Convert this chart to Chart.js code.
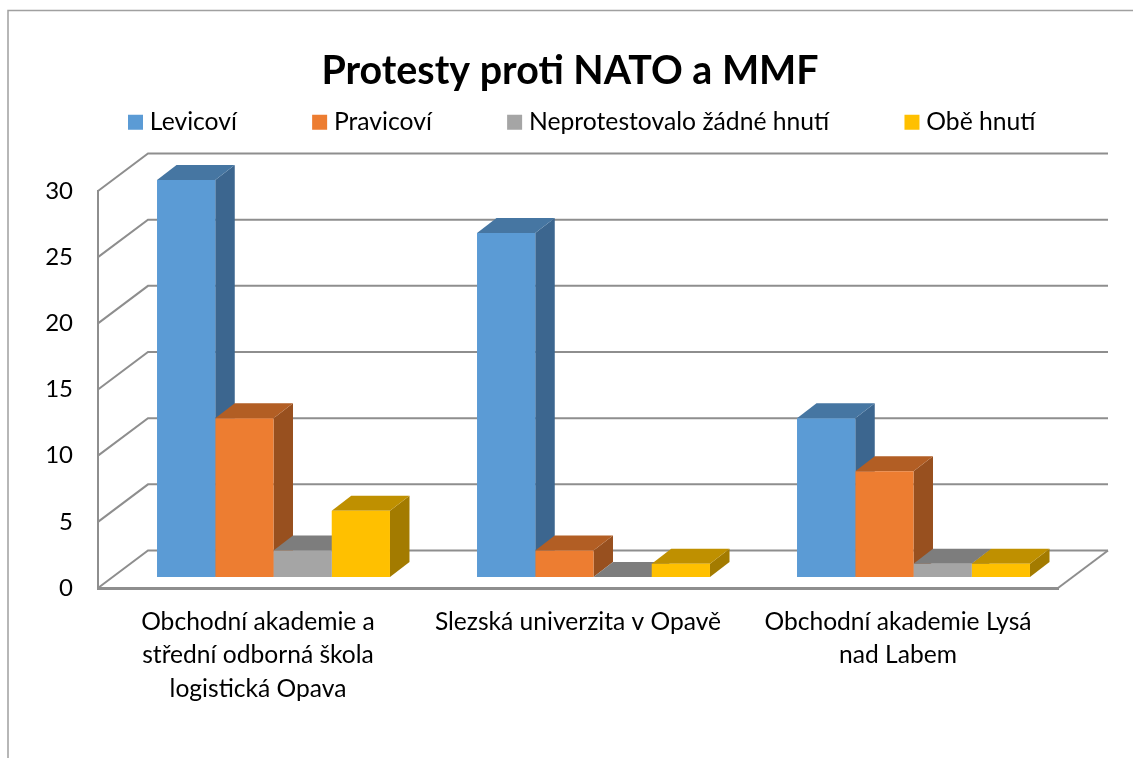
<!DOCTYPE html>
<html>
<head>
<meta charset="utf-8">
<style>
  body { margin: 0; background: #fff; }
  canvas { display: block; }
</style>
</head>
<body>
<canvas id="protestChart" width="1133" height="758"></canvas>
<script src="https://cdn.jsdelivr.net/npm/chart.js@4/dist/chart.umd.min.js"></script>
<script>
const categories = [
  ['Obchodní akademie a', 'střední odborná škola', 'logistická Opava'],
  'Slezská univerzita v Opavě',
  ['Obchodní akademie Lysá', 'nad Labem'],
];
const seriesNames = ['Levicoví', 'Pravicoví', 'Neprotestovalo žádné hnutí', 'Obě hnutí'];
const levicovi = [30, 26, 12];
const pravicovi = [12, 2, 8];
const zadne = [2, 0, 1];
const obe = [5, 1, 1];
const yTicks = [0, 5, 10, 15, 20, 25, 30];

const frontColors = ['#5B9BD5', '#ED7D31', '#A5A5A5', '#FFC000'];
const topColors = ['#4676A2', '#B25E24', '#7D7D7D', '#BF9000'];
const sideColors = ['#3C668F', '#98501F', '#6C6C6C', '#A37B00'];

const FONT = 'Lato, Carlito, sans-serif';
const GRID = '#8E8E8E';
// 3D depth of the walls and of the bars, in pixels
const WALL_DX = 50;
const WALL_DY = -37.5;
const BAR_DX = 15.5;
const BAR_DY = -11;
const DEPTH_DX = 19.5;
const DEPTH_DY = -15;

function poly(ctx, color, pts) {
  ctx.fillStyle = color;
  ctx.beginPath();
  pts.forEach(([x, y], i) => (i ? ctx.lineTo(x, y) : ctx.moveTo(x, y)));
  ctx.closePath();
  ctx.fill();
}

const depthPlugin = {
  id: 'depth',
  beforeLayout(chart) {
    // the legend row is wider than the plot, keep it on one line
    const legend = chart.legend;
    if (legend.patched) return;
    const fit = legend.fit;
    legend.fit = function () {
      this.maxWidth = 2000;
      fit.call(this);
      this.height = 100;
    };
    legend.patched = true;
  },
  afterLayout(chart) {
    chart.legend.top = 29.3;
    chart.legend.left = 52.8;
    chart.legend.right = 1500;
    chart.titleBlock.left += 41;
    chart.titleBlock.right += 41;
  },
  beforeDraw(chart) {
    const { ctx } = chart;
    ctx.save();
    ctx.strokeStyle = '#A0A0A0';
    ctx.lineWidth = 1.5;
    ctx.beginPath();
    ctx.moveTo(8, 758);
    ctx.lineTo(8, 10.5);
    ctx.lineTo(1133, 10.5);
    ctx.stroke();
    ctx.restore();
  },
  beforeDatasetsDraw(chart) {
    const { ctx, chartArea, scales } = chart;
    const { left, right, bottom } = chartArea;

    // back wall and side wall lines
    ctx.save();
    ctx.strokeStyle = GRID;
    ctx.lineWidth = 2;
    yTicks.forEach((value) => {
      const y = scales.y.getPixelForValue(value);
      ctx.beginPath();
      ctx.moveTo(left, y);
      ctx.lineTo(left + WALL_DX, y + WALL_DY);
      ctx.lineTo(right + WALL_DX, y + WALL_DY);
      ctx.stroke();
    });
    ctx.beginPath();
    ctx.moveTo(right, bottom);
    ctx.lineTo(right + WALL_DX, bottom + WALL_DY);
    ctx.stroke();
    ctx.restore();

    // side and top faces, left to right: a bar's top sits over its left neighbour's side
    chart.data.datasets.forEach((dataset, d) => {
      chart.getDatasetMeta(d).data.forEach((bar) => {
        const x0 = bar.x - bar.width / 2 + BAR_DX;
        const x1 = bar.x + bar.width / 2 + BAR_DX;
        const yt = bar.y + BAR_DY;
        const yb = bar.base + BAR_DY;
        poly(ctx, sideColors[d], [[x1, yt], [x1 + DEPTH_DX, yt + DEPTH_DY], [x1 + DEPTH_DX, yb + DEPTH_DY], [x1, yb]]);
        poly(ctx, topColors[d], [[x0, yt], [x0 + DEPTH_DX, yt + DEPTH_DY], [x1 + DEPTH_DX, yt + DEPTH_DY], [x1, yt]]);
      });
    });

    // the front faces come from the library, moved back into the floor
    ctx.save();
    ctx.translate(BAR_DX, BAR_DY);
  },
  afterDatasetsDraw(chart) {
    chart.ctx.restore();
  },
};

const seriesValues = [levicovi, pravicovi, zadne, obe];

new Chart(document.getElementById('protestChart'), {
  type: 'bar',
  data: {
    labels: categories,
    datasets: seriesNames.map((name, i) => ({
      label: name,
      data: seriesValues[i],
      backgroundColor: frontColors[i],
      borderWidth: 0,
      categoryPercentage: 0.728,
      barPercentage: 1,
      clip: false,
    })),
  },
  options: {
    responsive: false,
    animation: false,
    layout: { padding: { right: 75 } },
    plugins: {
      title: {
        display: true,
        text: 'Protesty proti NATO a MMF',
        color: '#000',
        font: { family: FONT, size: 39.4, weight: 'bold', lineHeight: 1 },
        padding: { top: 51.5, bottom: 0.1 },
      },
      legend: {
        align: 'start',
        labels: {
          color: '#000',
          font: { family: FONT, size: 24.7 },
          padding: 80.7,
          boxWidth: 4,
          boxHeight: 15,
          usePointStyle: true,
          pointStyle: 'rect',
        },
      },
      tooltip: { enabled: false },
    },
    scales: {
      x: {
        grid: { display: false, drawTicks: false },
        border: { color: GRID, width: 3 },
        ticks: {
          color: '#000',
          font: { family: FONT, size: 24.6, lineHeight: 1.36 },
          padding: 17,
          autoSkip: false,
          maxRotation: 0,
        },
        afterFit(scale) { scale.height = 170; },
      },
      y: {
        min: 0,
        max: 30,
        grid: { display: false, drawTicks: false },
        border: { color: GRID, width: 2 },
        ticks: {
          color: '#000',
          font: { family: FONT, size: 24 },
          stepSize: 5,
          padding: 25,
        },
        afterFit(scale) { scale.width = 98; },
      },
    },
  },
  plugins: [depthPlugin],
});
</script>
</body>
</html>
